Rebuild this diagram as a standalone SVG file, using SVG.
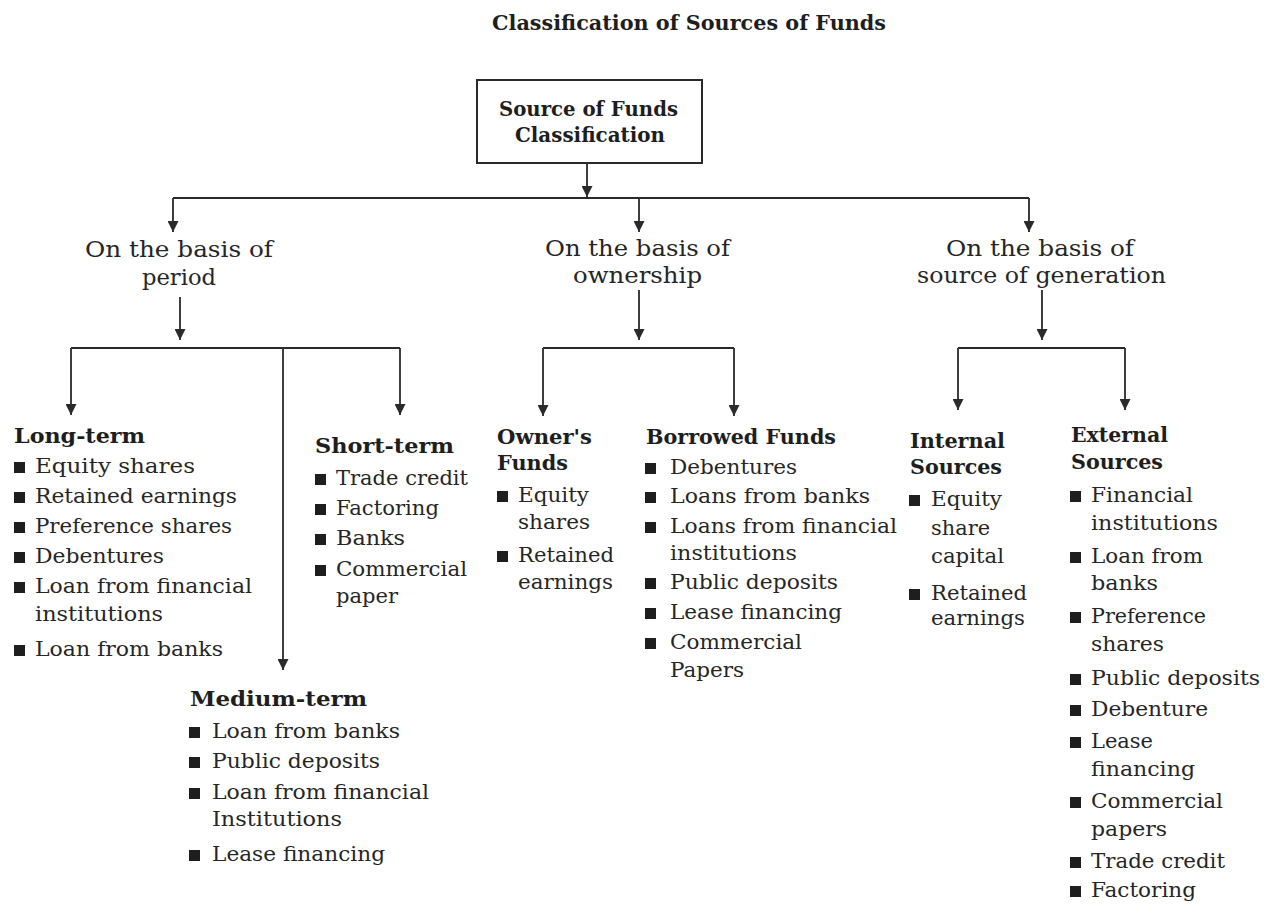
<svg xmlns="http://www.w3.org/2000/svg" width="1274" height="905" viewBox="0 0 1274 905">
<style>
  text { font-family: "DejaVu Serif", "Liberation Serif", serif; fill: #1e1e1e; }
  .title { font-size: 20px; font-weight: bold; }
  .hd { font-size: 20.5px; font-weight: bold; }
  .sub { font-size: 23px; fill: #262626; }
  .it { font-size: 20px; fill: #262626; }
  .b { fill: #1e1e1e; }
  .ln { stroke: #2a2a2a; stroke-width: 1.8; fill: none; }
  .ar { stroke: #2a2a2a; stroke-width: 1.8; fill: none; marker-end: url(#tip); }
  .box { fill: #ffffff; stroke: #2a2a2a; stroke-width: 2; }
</style>
<defs>
  <marker id="tip" markerUnits="userSpaceOnUse" markerWidth="11" markerHeight="11" viewBox="0 0 10 10" refX="10" refY="5" orient="auto">
    <path d="M0,0 L10,5 L0,10 z" fill="#2a2a2a"/>
  </marker>
</defs>
<rect x="0" y="0" width="1274" height="905" fill="#ffffff"/>

<text class="title" x="492" y="30" textLength="394" lengthAdjust="spacingAndGlyphs">Classification of Sources of Funds</text>

<g id="connectors">
  <line class="ar" x1="587" y1="163" x2="587" y2="197"/>
  <line class="ln" x1="173" y1="198" x2="1029" y2="198"/>
  <line class="ar" x1="173" y1="198" x2="173" y2="232"/>
  <line class="ar" x1="639" y1="198" x2="639" y2="232"/>
  <line class="ar" x1="1029" y1="198" x2="1029" y2="232"/>

  <line class="ar" x1="180" y1="297" x2="180" y2="340"/>
  <line class="ln" x1="71" y1="348" x2="400" y2="348"/>
  <line class="ar" x1="71" y1="348" x2="71" y2="415"/>
  <line class="ar" x1="400" y1="348" x2="400" y2="415"/>
  <line class="ar" x1="283" y1="348" x2="283" y2="670"/>

  <line class="ar" x1="639" y1="290" x2="639" y2="340"/>
  <line class="ln" x1="543" y1="348" x2="734" y2="348"/>
  <line class="ar" x1="543" y1="348" x2="543" y2="416"/>
  <line class="ar" x1="734" y1="348" x2="734" y2="416"/>

  <line class="ar" x1="1042" y1="290" x2="1042" y2="340"/>
  <line class="ln" x1="958" y1="348" x2="1125" y2="348"/>
  <line class="ar" x1="958" y1="348" x2="958" y2="410"/>
  <line class="ar" x1="1125" y1="348" x2="1125" y2="410"/>
</g>

<g id="root">
  <rect class="box" x="477" y="80" width="225" height="83"/>
  <text class="hd" x="499" y="116" textLength="179" lengthAdjust="spacingAndGlyphs">Source of Funds</text>
  <text class="hd" x="515" y="142" textLength="150" lengthAdjust="spacingAndGlyphs">Classification</text>
</g>

<g id="basis-period">
  <text class="sub" x="85" y="257" textLength="188" lengthAdjust="spacingAndGlyphs">On the basis of</text>
  <text class="sub" x="142" y="285" textLength="74" lengthAdjust="spacingAndGlyphs">period</text>
</g>

<g id="basis-ownership">
  <text class="sub" x="545" y="256" textLength="185" lengthAdjust="spacingAndGlyphs">On the basis of</text>
  <text class="sub" x="573" y="283" textLength="129" lengthAdjust="spacingAndGlyphs">ownership</text>
</g>

<g id="basis-generation">
  <text class="sub" x="946" y="256" textLength="188" lengthAdjust="spacingAndGlyphs">On the basis of</text>
  <text class="sub" x="917" y="283" textLength="249" lengthAdjust="spacingAndGlyphs">source of generation</text>
</g>

<g id="long-term">
  <text class="hd" x="14" y="443" textLength="131" lengthAdjust="spacingAndGlyphs">Long-term</text>
  <rect class="b" x="14" y="462" width="11" height="11"/>
  <text class="it" x="35" y="473" textLength="160" lengthAdjust="spacingAndGlyphs">Equity shares</text>
  <rect class="b" x="14" y="492" width="11" height="11"/>
  <text class="it" x="35" y="503" textLength="202" lengthAdjust="spacingAndGlyphs">Retained earnings</text>
  <rect class="b" x="14" y="522" width="11" height="11"/>
  <text class="it" x="35" y="533" textLength="197" lengthAdjust="spacingAndGlyphs">Preference shares</text>
  <rect class="b" x="14" y="552" width="11" height="11"/>
  <text class="it" x="35" y="563" textLength="129" lengthAdjust="spacingAndGlyphs">Debentures</text>
  <rect class="b" x="14" y="582" width="11" height="11"/>
  <text class="it" x="35" y="593" textLength="217" lengthAdjust="spacingAndGlyphs">Loan from financial</text>
  <text class="it" x="35" y="621" textLength="128" lengthAdjust="spacingAndGlyphs">institutions</text>
  <rect class="b" x="14" y="645" width="11" height="11"/>
  <text class="it" x="35" y="656" textLength="188" lengthAdjust="spacingAndGlyphs">Loan from banks</text>
</g>

<g id="short-term">
  <text class="hd" x="315" y="453" textLength="139" lengthAdjust="spacingAndGlyphs">Short-term</text>
  <rect class="b" x="315" y="474" width="11" height="11"/>
  <text class="it" x="336" y="485" textLength="132" lengthAdjust="spacingAndGlyphs">Trade credit</text>
  <rect class="b" x="315" y="504" width="11" height="11"/>
  <text class="it" x="336" y="515" textLength="103" lengthAdjust="spacingAndGlyphs">Factoring</text>
  <rect class="b" x="315" y="534" width="11" height="11"/>
  <text class="it" x="336" y="545" textLength="69" lengthAdjust="spacingAndGlyphs">Banks</text>
  <rect class="b" x="315" y="565" width="11" height="11"/>
  <text class="it" x="336" y="576" textLength="131" lengthAdjust="spacingAndGlyphs">Commercial</text>
  <text class="it" x="336" y="603" textLength="62" lengthAdjust="spacingAndGlyphs">paper</text>
</g>

<g id="medium-term">
  <text class="hd" x="190" y="706" textLength="177" lengthAdjust="spacingAndGlyphs">Medium-term</text>
  <rect class="b" x="189" y="727" width="11" height="11"/>
  <text class="it" x="212" y="738" textLength="188" lengthAdjust="spacingAndGlyphs">Loan from banks</text>
  <rect class="b" x="189" y="757" width="11" height="11"/>
  <text class="it" x="212" y="768" textLength="168" lengthAdjust="spacingAndGlyphs">Public deposits</text>
  <rect class="b" x="189" y="788" width="11" height="11"/>
  <text class="it" x="212" y="799" textLength="217" lengthAdjust="spacingAndGlyphs">Loan from financial</text>
  <text class="it" x="212" y="826" textLength="130" lengthAdjust="spacingAndGlyphs">Institutions</text>
  <rect class="b" x="189" y="850" width="11" height="11"/>
  <text class="it" x="212" y="861" textLength="173" lengthAdjust="spacingAndGlyphs">Lease financing</text>
</g>

<g id="owners-funds">
  <text class="hd" x="497" y="444" textLength="95" lengthAdjust="spacingAndGlyphs">Owner's</text>
  <text class="hd" x="497" y="470" textLength="71" lengthAdjust="spacingAndGlyphs">Funds</text>
  <rect class="b" x="497" y="491" width="11" height="11"/>
  <text class="it" x="518" y="502" textLength="71" lengthAdjust="spacingAndGlyphs">Equity</text>
  <text class="it" x="518" y="529" textLength="72" lengthAdjust="spacingAndGlyphs">shares</text>
  <rect class="b" x="497" y="551" width="11" height="11"/>
  <text class="it" x="518" y="562" textLength="96" lengthAdjust="spacingAndGlyphs">Retained</text>
  <text class="it" x="518" y="589" textLength="95" lengthAdjust="spacingAndGlyphs">earnings</text>
</g>

<g id="borrowed-funds">
  <text class="hd" x="646" y="444" textLength="190" lengthAdjust="spacingAndGlyphs">Borrowed Funds</text>
  <rect class="b" x="645" y="463" width="11" height="11"/>
  <text class="it" x="670" y="474" textLength="127" lengthAdjust="spacingAndGlyphs">Debentures</text>
  <rect class="b" x="645" y="492" width="11" height="11"/>
  <text class="it" x="670" y="503" textLength="200" lengthAdjust="spacingAndGlyphs">Loans from banks</text>
  <rect class="b" x="645" y="522" width="11" height="11"/>
  <text class="it" x="670" y="533" textLength="227" lengthAdjust="spacingAndGlyphs">Loans from financial</text>
  <text class="it" x="670" y="560" textLength="127" lengthAdjust="spacingAndGlyphs">institutions</text>
  <rect class="b" x="645" y="578" width="11" height="11"/>
  <text class="it" x="670" y="589" textLength="168" lengthAdjust="spacingAndGlyphs">Public deposits</text>
  <rect class="b" x="645" y="608" width="11" height="11"/>
  <text class="it" x="670" y="619" textLength="172" lengthAdjust="spacingAndGlyphs">Lease financing</text>
  <rect class="b" x="645" y="638" width="11" height="11"/>
  <text class="it" x="670" y="649" textLength="132" lengthAdjust="spacingAndGlyphs">Commercial</text>
  <text class="it" x="670" y="677" textLength="74" lengthAdjust="spacingAndGlyphs">Papers</text>
</g>

<g id="internal-sources">
  <text class="hd" x="910" y="448" textLength="95" lengthAdjust="spacingAndGlyphs">Internal</text>
  <text class="hd" x="910" y="474" textLength="92" lengthAdjust="spacingAndGlyphs">Sources</text>
  <rect class="b" x="909" y="495" width="11" height="11"/>
  <text class="it" x="931" y="506" textLength="71" lengthAdjust="spacingAndGlyphs">Equity</text>
  <text class="it" x="931" y="535" textLength="59" lengthAdjust="spacingAndGlyphs">share</text>
  <text class="it" x="931" y="563" textLength="73" lengthAdjust="spacingAndGlyphs">capital</text>
  <rect class="b" x="909" y="589" width="11" height="11"/>
  <text class="it" x="931" y="600" textLength="96" lengthAdjust="spacingAndGlyphs">Retained</text>
  <text class="it" x="931" y="625" textLength="94" lengthAdjust="spacingAndGlyphs">earnings</text>
</g>

<g id="external-sources">
  <text class="hd" x="1071" y="442" textLength="97" lengthAdjust="spacingAndGlyphs">External</text>
  <text class="hd" x="1071" y="469" textLength="92" lengthAdjust="spacingAndGlyphs">Sources</text>
  <rect class="b" x="1070" y="491" width="11" height="11"/>
  <text class="it" x="1091" y="502" textLength="102" lengthAdjust="spacingAndGlyphs">Financial</text>
  <text class="it" x="1091" y="530" textLength="127" lengthAdjust="spacingAndGlyphs">institutions</text>
  <rect class="b" x="1070" y="552" width="11" height="11"/>
  <text class="it" x="1091" y="563" textLength="112" lengthAdjust="spacingAndGlyphs">Loan from</text>
  <text class="it" x="1091" y="590" textLength="67" lengthAdjust="spacingAndGlyphs">banks</text>
  <rect class="b" x="1070" y="612" width="11" height="11"/>
  <text class="it" x="1091" y="623" textLength="115" lengthAdjust="spacingAndGlyphs">Preference</text>
  <text class="it" x="1091" y="651" textLength="73" lengthAdjust="spacingAndGlyphs">shares</text>
  <rect class="b" x="1070" y="674" width="11" height="11"/>
  <text class="it" x="1091" y="685" textLength="169" lengthAdjust="spacingAndGlyphs">Public deposits</text>
  <rect class="b" x="1070" y="705" width="11" height="11"/>
  <text class="it" x="1091" y="716" textLength="117" lengthAdjust="spacingAndGlyphs">Debenture</text>
  <rect class="b" x="1070" y="737" width="11" height="11"/>
  <text class="it" x="1091" y="748" textLength="62" lengthAdjust="spacingAndGlyphs">Lease</text>
  <text class="it" x="1091" y="776" textLength="104" lengthAdjust="spacingAndGlyphs">financing</text>
  <rect class="b" x="1070" y="797" width="11" height="11"/>
  <text class="it" x="1091" y="808" textLength="132" lengthAdjust="spacingAndGlyphs">Commercial</text>
  <text class="it" x="1091" y="836" textLength="76" lengthAdjust="spacingAndGlyphs">papers</text>
  <rect class="b" x="1070" y="857" width="11" height="11"/>
  <text class="it" x="1091" y="868" textLength="134" lengthAdjust="spacingAndGlyphs">Trade credit</text>
  <rect class="b" x="1070" y="886" width="11" height="11"/>
  <text class="it" x="1091" y="897" textLength="105" lengthAdjust="spacingAndGlyphs">Factoring</text>
</g>
</svg>
